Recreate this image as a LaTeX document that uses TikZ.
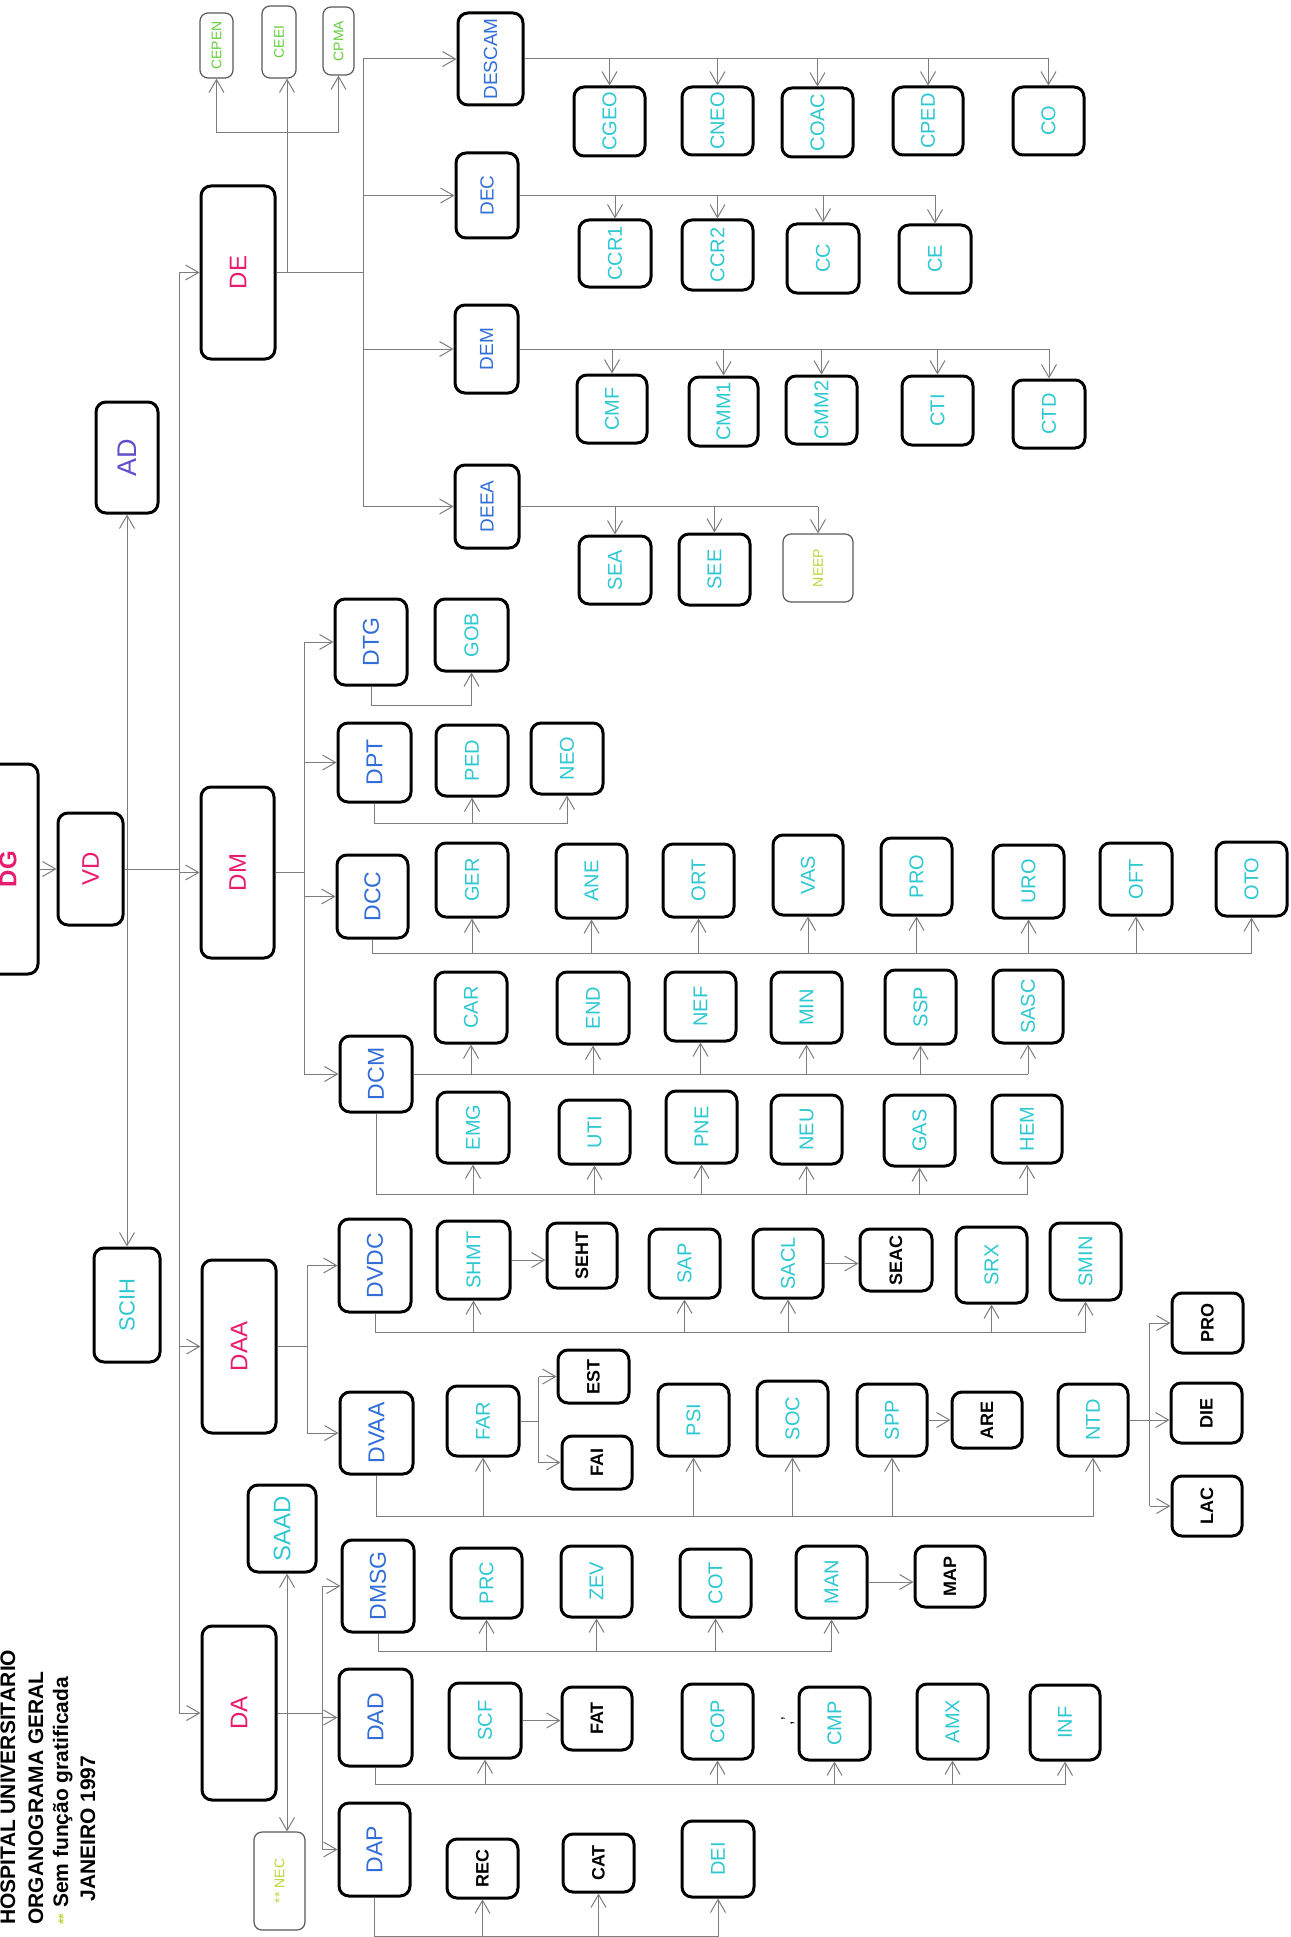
\documentclass[tikz,border=0pt]{standalone}
\usepackage{fontspec}
\setmainfont{Liberation Sans}
\usepackage{graphicx}
\usetikzlibrary{arrows.meta}
\definecolor{cmag}{RGB}{232,28,110}
\definecolor{cblue}{RGB}{50,110,215}
\definecolor{cpur}{RGB}{95,80,205}
\definecolor{ccyan}{RGB}{45,200,210}
\definecolor{cgreen}{RGB}{100,205,60}
\definecolor{cyg}{RGB}{185,215,60}
\definecolor{cln}{RGB}{125,125,125}
\newcommand\fsz[1]{\fontsize{#1}{#1}\selectfont}
\newcommand\obox[7]{\node[#6, minimum width={((#4)-(#2))*0.5pt}, minimum height={((#5)-(#3))*0.5pt}] (#1) at ({((#2)+(#4))/2},{((#3)+(#5))/2}) {\rotatebox{90}{#7}};}
\begin{document}
\begin{tikzpicture}[x=0.5pt,y=-0.5pt,
  ln/.style={draw=cln, line width=0.5pt},
  arr/.style={ln, -{Straight Barb[length=6.5pt,width=7.5pt]}},
  bx/.style={draw=black, line width=1.5pt, rounded corners=5pt, inner sep=0pt, fill=white},
  tbx/.style={draw=black!65, line width=0.6pt, rounded corners=4pt, inner sep=0pt, fill=white},
  topb/.style={bx, text=cmag, font=\fsz{12}},
  dgb/.style={bx, text=cmag, font=\bfseries\fsz{12}},
  adb/.style={bx, text=cpur, font=\fsz{13.5}},
  scb/.style={bx, text=ccyan, font=\fsz{11}},
  sab/.style={bx, text=ccyan, font=\fsz{12}},
  midb/.style={bx, text=cblue, font=\fsz{11.5}},
  deb/.style={bx, text=cblue, font=\fsz{9.5}},
  lfb/.style={bx, text=ccyan, font=\fsz{10}},
  blb/.style={bx, text=black, font=\bfseries\fsz{9}},
  grb/.style={tbx, text=cgreen, font=\fsz{7}},
  ygb/.style={tbx, text=cyg, font=\fsz{7}},
  ttl/.style={rotate=90, inner sep=0pt, font=\bfseries\fsz{10.5}}
]
\useasboundingbox (0,0) rectangle (1290,1937);
\clip (0,0) rectangle (1290,1937);
\fill[white] (0,0) rectangle (1290,1937);

% ---------- title ----------
\node[ttl, anchor=base west] (t1) at (15,1925) {HOSPITAL UNIVERSITÁRIO};
\node[ttl, anchor=base west] (t2) at (43,1925) {ORGANOGRAMA GERAL};
\node[ttl, anchor=base west] (t3) at (68,1925) {{\color{cyg}\fsz{7}**}\ Sem função gratificada};
\node[ttl, anchor=base west] (t4) at (95,1902) {JANEIRO 1997};

% ---------- top level ----------
\obox{dg}{-22}{764}{38}{974}{dgb}{DG}
\obox{vd}{58}{813}{123}{925}{topb}{VD}
\obox{ad}{96}{402}{158}{513}{adb}{AD}
\obox{scih}{94}{1248}{160}{1362}{scb}{SCIH}
\obox{de}{201}{186}{275}{359}{topb}{DE}
\obox{dm}{201}{787}{274}{958}{topb}{DM}
\obox{daa}{202}{1260}{276}{1433}{topb}{DAA}
\obox{da}{202}{1626}{276}{1800}{topb}{DA}
\obox{saad}{248}{1485}{316}{1572}{sab}{SAAD}
\obox{nec}{254}{1832}{305}{1930}{ygb}{** NEC}

% ---------- DE ----------
\obox{cepen}{200}{13}{233}{78}{grb}{CEPEN}
\obox{ceei}{262}{6}{296}{78}{grb}{CEEI}
\obox{cpma}{323}{7}{354}{75}{grb}{CPMA}
\obox{descam}{458}{13}{523}{105}{deb}{DESCAM}
\obox{dec}{456}{153}{518}{238}{deb}{DEC}
\obox{dem}{455}{305}{518}{393}{deb}{DEM}
\obox{deea}{455}{465}{519}{548}{deb}{DEEA}
\obox{cgeo}{574}{87}{645}{156}{lfb}{CGEO}
\obox{cneo}{682}{87}{753}{155}{lfb}{CNEO}
\obox{coac}{782}{88}{853}{157}{lfb}{COAC}
\obox{cped}{893}{87}{963}{155}{lfb}{CPED}
\obox{co}{1013}{87}{1084}{155}{lfb}{CO}
\obox{ccra}{579}{220}{651}{287}{lfb}{CCR1}
\obox{ccrb}{682}{220}{753}{290}{lfb}{CCR2}
\obox{cc}{787}{224}{859}{293}{lfb}{CC}
\obox{ce}{899}{225}{971}{293}{lfb}{CE}
\obox{cmf}{577}{375}{647}{443}{lfb}{CMF}
\obox{cmma}{689}{377}{758}{446}{lfb}{CMM1}
\obox{cmmb}{786}{376}{857}{444}{lfb}{CMM2}
\obox{cti}{902}{376}{973}{445}{lfb}{CTI}
\obox{ctd}{1013}{380}{1085}{448}{lfb}{CTD}
\obox{sea}{579}{536}{651}{604}{lfb}{SEA}
\obox{see}{679}{534}{750}{605}{lfb}{SEE}
\obox{neep}{783}{534}{853}{602}{ygb}{NEEP}

% ---------- DM ----------
\obox{dtg}{335}{599}{407}{685}{midb}{DTG}
\obox{gob}{435}{599}{508}{671}{lfb}{GOB}
\obox{dpt}{338}{723}{411}{802}{midb}{DPT}
\obox{ped}{436}{725}{508}{796}{lfb}{PED}
\obox{neo}{531}{723}{603}{794}{lfb}{NEO}
\obox{dcc}{337}{855}{408}{938}{midb}{DCC}
\obox{ger}{436}{843}{508}{917}{lfb}{GER}
\obox{ane}{556}{844}{627}{918}{lfb}{ANE}
\obox{ort}{663}{844}{734}{917}{lfb}{ORT}
\obox{vas}{773}{835}{843}{915}{lfb}{VAS}
\obox{proa}{881}{838}{952}{915}{lfb}{PRO}
\obox{uro}{993}{845}{1064}{918}{lfb}{URO}
\obox{oft}{1100}{843}{1172}{915}{lfb}{OFT}
\obox{oto}{1216}{842}{1287}{916}{lfb}{OTO}
\obox{dcm}{340}{1036}{412}{1112}{midb}{DCM}
\obox{car}{435}{972}{507}{1043}{lfb}{CAR}
\obox{endo}{557}{972}{629}{1044}{lfb}{END}
\obox{nef}{665}{972}{736}{1041}{lfb}{NEF}
\obox{min}{771}{972}{842}{1043}{lfb}{MIN}
\obox{ssp}{885}{970}{956}{1044}{lfb}{SSP}
\obox{sasc}{993}{970}{1063}{1043}{lfb}{SASC}
\obox{emg}{437}{1092}{509}{1163}{lfb}{EMG}
\obox{uti}{559}{1100}{630}{1164}{lfb}{UTI}
\obox{pne}{666}{1091}{737}{1163}{lfb}{PNE}
\obox{neu}{771}{1095}{842}{1164}{lfb}{NEU}
\obox{gas}{884}{1095}{955}{1166}{lfb}{GAS}
\obox{hem}{992}{1095}{1062}{1163}{lfb}{HEM}

% ---------- DAA ----------
\obox{dvdc}{339}{1219}{411}{1312}{midb}{DVDC}
\obox{shmt}{437}{1221}{510}{1299}{lfb}{SHMT}
\obox{seht}{547}{1223}{617}{1288}{blb}{SEHT}
\obox{sap}{649}{1229}{720}{1298}{lfb}{SAP}
\obox{sacl}{753}{1229}{823}{1298}{lfb}{SACL}
\obox{seac}{860}{1229}{932}{1291}{blb}{SEAC}
\obox{srx}{956}{1227}{1027}{1303}{lfb}{SRX}
\obox{smin}{1050}{1223}{1121}{1300}{lfb}{SMIN}
\obox{dvaa}{340}{1392}{413}{1474}{midb}{DVAA}
\obox{far}{447}{1386}{519}{1456}{lfb}{FAR}
\obox{est}{558}{1350}{629}{1403}{blb}{EST}
\obox{fai}{562}{1436}{632}{1489}{blb}{FAI}
\obox{psi}{658}{1384}{729}{1456}{lfb}{PSI}
\obox{soc}{757}{1381}{828}{1456}{lfb}{SOC}
\obox{spp}{857}{1384}{927}{1456}{lfb}{SPP}
\obox{are}{952}{1392}{1022}{1448}{blb}{ARE}
\obox{ntd}{1058}{1384}{1128}{1456}{lfb}{NTD}
\obox{prob}{1172}{1293}{1243}{1353}{blb}{PRO}
\obox{die}{1171}{1383}{1242}{1443}{blb}{DIE}
\obox{lac}{1172}{1476}{1242}{1536}{blb}{LAC}

% ---------- DA ----------
\obox{dmsg}{342}{1540}{414}{1632}{midb}{DMSG}
\obox{prc}{451}{1548}{522}{1618}{lfb}{PRC}
\obox{zev}{561}{1546}{632}{1617}{lfb}{ZEV}
\obox{cot}{680}{1549}{751}{1617}{lfb}{COT}
\obox{man}{796}{1546}{867}{1618}{lfb}{MAN}
\obox{map}{915}{1546}{985}{1607}{blb}{MAP}
\obox{dad}{339}{1669}{412}{1766}{midb}{DAD}
\obox{scf}{449}{1683}{521}{1758}{lfb}{SCF}
\obox{fat}{562}{1687}{632}{1750}{blb}{FAT}
\obox{cop}{682}{1684}{753}{1759}{lfb}{COP}
\obox{cmp}{799}{1687}{870}{1760}{lfb}{CMP}
\obox{amx}{917}{1684}{988}{1759}{lfb}{AMX}
\obox{inf}{1030}{1685}{1100}{1760}{lfb}{INF}
\obox{dap}{339}{1803}{410}{1896}{midb}{DAP}
\obox{rec}{447}{1839}{518}{1898}{blb}{REC}
\obox{cat}{563}{1834}{634}{1892}{blb}{CAT}
\obox{dei}{682}{1821}{754}{1897}{lfb}{DEI}
\node[rotate=90, inner sep=0pt, font=\fsz{8}] (mk) at (788,1721) {,'};

% ---------- connectors: top ----------
\draw[arr] (vd.west -| dg.east) -- (vd.west);
\coordinate (vbus) at (179,869);
\draw[ln] (vd.east) -- (vbus);
\draw[ln] (de.west -| vbus) -- (da.west -| vbus);
\foreach \n in {de,dm,daa,da} \draw[arr] (\n.west -| vbus) -- (\n.west);
\draw[arr] (vd.east -| ad.south) -- (ad.south);
\draw[arr] (vd.east -| scih.north) -- (scih.north);

% ---------- DE ----------
\coordinate (debus) at (363,273);
\draw[ln] (de.east) -- (de.east -| debus);
\coordinate (cbx) at (287,133);
\draw[ln] (de.east -| cbx) -- (cbx);
\draw[ln] (cbx -| cepen.south) -- (cbx -| cpma.south);
\draw[arr] (cbx -| cepen.south) -- (cepen.south);
\draw[arr] (cbx) -- (cbx |- ceei.south);
\draw[arr] (cbx -| cpma.south) -- (cpma.south);
\draw[ln] (descam.west -| debus) -- (deea.west -| debus);
\foreach \n in {descam,dec,dem,deea} \draw[arr] (\n.west -| debus) -- (\n.west);
\draw[ln] (descam.east) -- (descam.east -| co.north);
\foreach \n in {cgeo,cneo,coac,cped,co} \draw[arr] (descam.east -| \n.north) -- (\n.north);
\draw[ln] (dec.east) -- (dec.east -| ce.north);
\foreach \n in {ccra,ccrb,cc,ce} \draw[arr] (dec.east -| \n.north) -- (\n.north);
\draw[ln] (dem.east) -- (dem.east -| ctd.north);
\foreach \n in {cmf,cmma,cmmb,cti,ctd} \draw[arr] (dem.east -| \n.north) -- (\n.north);
\draw[ln] (deea.east) -- (deea.east -| neep.north);
\foreach \n in {sea,see,neep} \draw[arr] (deea.east -| \n.north) -- (\n.north);

% ---------- DM ----------
\coordinate (dmbus) at (304,872);
\draw[ln] (dm.east) -- (dm.east -| dmbus);
\draw[ln] (dtg.west -| dmbus) -- (dcm.west -| dmbus);
\foreach \n in {dtg,dpt,dcc,dcm} \draw[arr] (\n.west -| dmbus) -- (\n.west);
\path (dtg.south) ++(0,19) coordinate (dtgb);
\draw[ln] (dtg.south) -- (dtgb);
\draw[arr] (dtgb) -| (gob.south);
\path (dpt.south) ++(0,20) coordinate (dptb);
\draw[ln] (dpt.south) -- (dptb) -- (dptb -| neo.south);
\foreach \n in {ped,neo} \draw[arr] (dptb -| \n.south) -- (\n.south);
\path (dcc.south) ++(0,14) coordinate (dccb);
\draw[ln] (dcc.south) -- (dccb) -- (dccb -| oto.south);
\foreach \n in {ger,ane,ort,vas,proa,uro,oft,oto} \draw[arr] (dccb -| \n.south) -- (\n.south);
\draw[ln] (dcm.east) -- (dcm.east -| sasc.south);
\foreach \n in {car,endo,nef,min,ssp,sasc} \draw[arr] (dcm.east -| \n.south) -- (\n.south);
\path (dcm.south) ++(0,81) coordinate (dcmb);
\draw[ln] (dcm.south) -- (dcmb) -- (dcmb -| hem.south);
\foreach \n in {emg,uti,pne,neu,gas,hem} \draw[arr] (dcmb -| \n.south) -- (\n.south);

% ---------- DAA ----------
\coordinate (daabus) at (307,1347);
\draw[ln] (daa.east) -- (daa.east -| daabus);
\draw[ln] (dvdc.west -| daabus) -- (dvaa.west -| daabus);
\foreach \n in {dvdc,dvaa} \draw[arr] (\n.west -| daabus) -- (\n.west);
\path (dvdc.south) ++(0,19) coordinate (dvdcb);
\draw[ln] (dvdc.south) -- (dvdcb) -- (dvdcb -| smin.south);
\foreach \n in {shmt,sap,sacl,srx,smin} \draw[arr] (dvdcb -| \n.south) -- (\n.south);
\draw[arr] (shmt.east) -- (shmt.east -| seht.west);
\draw[arr] (sacl.east) -- (sacl.east -| seac.west);
\path (dvaa.south) ++(0,41) coordinate (dvaab);
\draw[ln] (dvaa.south) -- (dvaab) -- (dvaab -| ntd.south);
\foreach \n in {far,psi,soc,spp,ntd} \draw[arr] (dvaab -| \n.south) -- (\n.south);
\path (far.east) ++(18,0) coordinate (farj);
\draw[ln] (far.east) -- (farj);
\draw[ln] (farj |- est.west) -- (farj |- fai.west);
\draw[arr] (farj |- est.west) -- (est.west);
\draw[arr] (farj |- fai.west) -- (fai.west);
\draw[arr] (spp.east) -- (spp.east -| are.west);
\path (ntd.east) ++(20,0) coordinate (ntdj);
\draw[ln] (ntd.east) -- (ntdj);
\draw[ln] (ntdj |- prob.west) -- (ntdj |- lac.west);
\draw[arr] (ntdj |- prob.west) -- (prob.west);
\draw[arr] (ntdj) -- (ntdj -| die.west);
\draw[arr] (ntdj |- lac.west) -- (lac.west);

% ---------- DA ----------
\coordinate (dabus) at (322,1713);
\draw[ln] (da.east) -- (da.east -| dabus);
\draw[ln] (dmsg.west -| dabus) -- (dap.west -| dabus);
\foreach \n in {dmsg,dad,dap} \draw[arr] (\n.west -| dabus) -- (\n.west);
\coordinate (snx) at (287,1713);
\draw[arr] (snx) -- (snx |- saad.south);
\draw[arr] (snx) -- (snx |- nec.north);
\path (dmsg.south) ++(0,18) coordinate (dmsgb);
\draw[ln] (dmsg.south) -- (dmsgb) -- (dmsgb -| man.south);
\foreach \n in {prc,zev,cot,man} \draw[arr] (dmsgb -| \n.south) -- (\n.south);
\draw[arr] (man.east) -- (man.east -| map.west);
\path (dad.south) ++(0,17) coordinate (dadb);
\draw[ln] (dad.south) -- (dadb) -- (dadb -| inf.south);
\foreach \n in {scf,cop,cmp,amx,inf} \draw[arr] (dadb -| \n.south) -- (\n.south);
\draw[arr] (scf.east) -- (scf.east -| fat.west);
\path (dap.south) ++(0,39) coordinate (dapb);
\draw[ln] (dap.south) -- (dapb) -- (dapb -| dei.south);
\foreach \n in {rec,cat,dei} \draw[arr] (dapb -| \n.south) -- (\n.south);
\end{tikzpicture}
\end{document}
